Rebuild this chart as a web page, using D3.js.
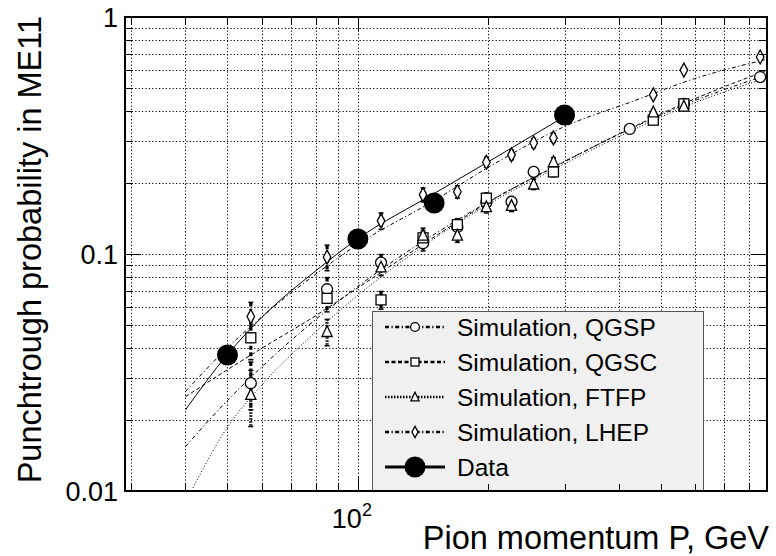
<!DOCTYPE html>
<html><head><meta charset="utf-8">
<script src="https://cdn.jsdelivr.net/npm/d3@7"></script>
<style>body{margin:0;background:#fff}svg{display:block}text{font-family:"Liberation Sans",Arial,Helvetica,sans-serif;fill:#000}</style>
</head><body><svg id="c" width="776" height="556"></svg>
<script>
// ---------- data ----------
const dataP = [50, 100, 150, 300];
const dataV = [0.0375, 0.1157, 0.164, 0.386];

const qgspP = [56.6, 84.9, 113.1, 141.4, 169.7, 198, 226.3, 254.6, 424.3, 565.7, 848.5];
const qgspV = [0.0285, 0.071, 0.092, 0.111, 0.13, 0.165, 0.166, 0.222, 0.337, 0.43, 0.558];
const qgspE = [0.0065, 0.0085, 0.0075, 0.008, 0.008, 0.009, 0.009, 0.01, 0.006, 0.008, 0.01];

const qgscP = [56.6, 84.9, 113.1, 141.4, 169.7, 198, 282.8, 480.8, 565.7];
const qgscV = [0.0443, 0.065, 0.064, 0.117, 0.133, 0.172, 0.222, 0.367, 0.43];
const qgscE = [0.0085, 0.008, 0.0055, 0.008, 0.008, 0.009, 0.01, 0.008, 0.008];

const ftfpP = [56.6, 84.9, 113.1, 141.4, 169.7, 198, 226.3, 254.6, 282.8, 480.8, 565.7];
const ftfpV = [0.0255, 0.047, 0.088, 0.12, 0.12, 0.158, 0.16, 0.197, 0.245, 0.397, 0.42];
const ftfpE = [0.0068, 0.006, 0.007, 0.0085, 0.008, 0.009, 0.009, 0.01, 0.01, 0.008, 0.008];

const lhepP = [56.6, 84.9, 113.1, 141.4, 169.7, 198, 226.3, 254.6, 282.8, 480.8, 565.7, 848.5];
const lhepV = [0.0545, 0.097, 0.138, 0.178, 0.183, 0.244, 0.262, 0.294, 0.309, 0.469, 0.597, 0.678];
const lhepE = [0.008, 0.012, 0.011, 0.012, 0.011, 0.012, 0.012, 0.013, 0.013, 0.006, 0.006, 0.012];

// fitted curves
const fitDataP = [40, 50, 60, 80, 100, 150, 200, 300];
const fitDataV = [0.022, 0.0377, 0.054, 0.085, 0.116, 0.18, 0.245, 0.38];
const fitLhepP = [40, 50, 60, 80, 100, 150, 200, 300, 430, 600, 870];
const fitLhepV = [0.0263, 0.0402, 0.0543, 0.0823, 0.110, 0.168, 0.232, 0.345, 0.44, 0.55, 0.66];
const fitQgscP = [40, 50, 60, 80, 100, 150, 200, 300, 430, 600, 870];
const fitQgscV = [0.025, 0.0325, 0.040, 0.055, 0.072, 0.118, 0.165, 0.245, 0.342, 0.452, 0.59];
const fitQgspP = [40, 50, 60, 80, 100, 150, 200, 300, 430, 600, 870];
const fitQgspV = [0.0154, 0.0241, 0.0334, 0.053, 0.073, 0.121, 0.166, 0.246, 0.34, 0.444, 0.565];
const fitFtfpP = [41.6, 50, 60, 80, 100, 150, 200, 300, 430, 600, 870];
const fitFtfpV = [0.0103, 0.0186, 0.028, 0.047, 0.067, 0.116, 0.162, 0.24, 0.333, 0.435, 0.55];

const xGrid = [30, 40, 50, 60, 70, 80, 90, 100, 200, 300, 400, 500, 600, 700, 800];
const yGrid = [0.02, 0.03, 0.04, 0.05, 0.06, 0.07, 0.08, 0.09, 0.1, 0.2, 0.3, 0.4, 0.5, 0.6, 0.7, 0.8, 0.9];
const yLabels = [1, 0.1, 0.01];
const yLabelText = ["1", "0.1", "0.01"];
const legendLabels = ["Simulation, QGSP", "Simulation, QGSC", "Simulation, FTFP", "Simulation, LHEP", "Data"];

// ---------- layout ----------
const L = 125, R = 767, T = 17, B = 491;
const svg = d3.select("#c");
const x = d3.scaleLog().domain([29, 880]).range([L, R]);
const y = d3.scaleLog().domain([0.01, 1]).range([B, T]);

const styles = {
  qgsp: "4,2.5,1.2,2.5",
  qgsc: "4,2.5",
  ftfp: "1,1.8",
  lhep: "4,2.5,1.2,2.5"
};

// grid
const grid = svg.append("g").attr("stroke", "#000").attr("stroke-width", 1).attr("stroke-dasharray", "1.2,2.2");
grid.selectAll("line.gx").data(xGrid).join("line")
  .attr("x1", d => Math.round(x(d)) + 0.5).attr("x2", d => Math.round(x(d)) + 0.5)
  .attr("y1", T).attr("y2", B);
grid.selectAll("line.gy").data(yGrid).join("line")
  .attr("y1", d => Math.round(y(d)) + 0.5).attr("y2", d => Math.round(y(d)) + 0.5)
  .attr("x1", L).attr("x2", R);

// clip
svg.append("clipPath").attr("id", "clp").append("rect").attr("x", L).attr("y", T).attr("width", R - L).attr("height", B - T);
const plot = svg.append("g").attr("clip-path", "url(#clp)");

// fit curves
const line = d3.line().x(d => x(d[0])).y(d => y(d[1])).curve(d3.curveMonotoneX);
function curve(P, V, dash) {
  plot.append("path").attr("d", line(P.map((p, i) => [p, V[i]])))
    .attr("fill", "none").attr("stroke", "#000").attr("stroke-width", 1)
    .attr("stroke-dasharray", dash);
}
curve(fitQgspP, fitQgspV, styles.qgsp);
curve(fitQgscP, fitQgscV, styles.qgsc);
curve(fitFtfpP, fitFtfpV, "1,2");
curve(fitLhepP, fitLhepV, styles.lhep);
curve(fitDataP, fitDataV, null);

// marker shapes
function marker(g, type, cx, cy, s) {
  s = s || 1;
  if (type === "circle") {
    g.append("circle").attr("cx", cx).attr("cy", cy).attr("r", 5.5 * s)
      .attr("fill", "#fff").attr("stroke", "#000").attr("stroke-width", 1.3);
  } else if (type === "square") {
    const h = 5 * s;
    g.append("rect").attr("x", cx - h).attr("y", cy - h).attr("width", 2 * h).attr("height", 2 * h)
      .attr("fill", "#fff").attr("stroke", "#000").attr("stroke-width", 1.3);
  } else if (type === "triangle") {
    const h = 6 * s;
    g.append("path").attr("d", `M${cx},${cy - h}L${cx + h * 0.85},${cy + h * 0.8}L${cx - h * 0.85},${cy + h * 0.8}Z`)
      .attr("fill", "#fff").attr("stroke", "#000").attr("stroke-width", 1.3);
  } else if (type === "diamond") {
    const w = 3.8 * s, h = 7 * s;
    g.append("path").attr("d", `M${cx},${cy - h}L${cx + w},${cy}L${cx},${cy + h}L${cx - w},${cy}Z`)
      .attr("fill", "#fff").attr("stroke", "#000").attr("stroke-width", 1.3);
  } else if (type === "data") {
    g.append("circle").attr("cx", cx).attr("cy", cy).attr("r", 10.5 * s).attr("fill", "#000");
  }
}

// simulation series with error bars
const series = [
  {P: qgspP, V: qgspV, E: qgspE, m: "circle", dash: styles.qgsp},
  {P: qgscP, V: qgscV, E: qgscE, m: "square", dash: styles.qgsc},
  {P: ftfpP, V: ftfpV, E: ftfpE, m: "triangle", dash: "1.5,1.5"},
  {P: lhepP, V: lhepV, E: lhepE, m: "diamond", dash: styles.lhep}
];
const eg = plot.append("g");
series.forEach(s => {
  s.P.forEach((p, i) => {
    const cx = x(p), y1 = y(s.V[i] + s.E[i]), y2 = y(Math.max(s.V[i] - s.E[i], 0.0011));
    eg.append("line").attr("x1", cx).attr("x2", cx).attr("y1", y1).attr("y2", y2)
      .attr("stroke", "#000").attr("stroke-width", 3.2).attr("stroke-dasharray", s.dash);
    [y1, y2].forEach(yy => eg.append("line").attr("x1", cx - 2.5).attr("x2", cx + 2.5).attr("y1", yy).attr("y2", yy)
      .attr("stroke", "#000").attr("stroke-width", 1.5));
  });
});
const mg = plot.append("g");
series.forEach(s => s.P.forEach((p, i) => marker(mg, s.m, x(p), y(s.V[i]))));
dataP.forEach((p, i) => marker(mg, "data", x(p), y(dataV[i])));

// legend
const lg = svg.append("g");
lg.append("rect").attr("x", 372.5).attr("y", 311.5).attr("width", 331).attr("height", B - 311.5)
  .attr("fill", "#f0f0f0").attr("stroke", "#555").attr("stroke-width", 1);
const legItems = [
  {m: "circle", dash: styles.qgsp},
  {m: "square", dash: styles.qgsc},
  {m: "triangle", dash: "1.5,1.5"},
  {m: "diamond", dash: styles.lhep},
  {m: "data", dash: null}
];
legItems.forEach((it, i) => {
  const cy = 327 + i * 35;
  lg.append("line").attr("x1", 385).attr("x2", 445).attr("y1", cy).attr("y2", cy)
    .attr("stroke", "#000").attr("stroke-width", it.m === "data" ? 3 : 2.5).attr("stroke-dasharray", it.dash);
  marker(lg, it.m, 415, cy, it.m === "data" ? 1 : 0.8);
  lg.append("text").attr("x", 457).attr("y", cy).attr("dy", "0.36em")
    .attr("font-size", 24.5).text(legendLabels[i]);
});

// frame & ticks
const ax = svg.append("g").attr("stroke", "#000");
const major = v => Math.abs(Math.log10(v) - Math.round(Math.log10(v))) < 1e-6;
xGrid.forEach(v => {
  const xx = Math.round(x(v)) + 0.5, len = major(v) ? 14 : 7;
  ax.append("line").attr("x1", xx).attr("x2", xx).attr("y1", B).attr("y2", B - len).attr("stroke-width", 1);
  ax.append("line").attr("x1", xx).attr("x2", xx).attr("y1", T).attr("y2", T + len).attr("stroke-width", 1);
});
yGrid.forEach(v => {
  const yy = Math.round(y(v)) + 0.5, len = major(v) ? 16 : 8;
  ax.append("line").attr("y1", yy).attr("y2", yy).attr("x1", L).attr("x2", L + len).attr("stroke-width", 1);
  ax.append("line").attr("y1", yy).attr("y2", yy).attr("x1", R).attr("x2", R - len).attr("stroke-width", 1);
});
svg.append("rect").attr("x", L).attr("y", T).attr("width", R - L).attr("height", B - T)
  .attr("fill", "none").attr("stroke", "#000").attr("stroke-width", 2);

// y tick labels
yLabels.forEach((v, i) => {
  svg.append("text").attr("x", 118).attr("y", y(v)).attr("dy", "0.36em").attr("text-anchor", "end")
    .attr("font-size", 27).text(yLabelText[i]);
});
// x tick label 10^2
const xl = svg.append("text").attr("x", x(100) - 6).attr("y", 528).attr("text-anchor", "middle").attr("font-size", 27);
xl.append("tspan").text("10");
xl.append("tspan").attr("font-size", 18).attr("dy", -12).text("2");

// axis titles
svg.append("text").attr("x", 769).attr("y", 549).attr("text-anchor", "end").attr("font-size", 32.5)
  .text("Pion momentum P, GeV");
svg.append("text").attr("transform", "translate(41,16) rotate(-90)").attr("text-anchor", "end").attr("font-size", 32.5)
  .text("Punchtrough probability in ME11");
</script></body></html>
